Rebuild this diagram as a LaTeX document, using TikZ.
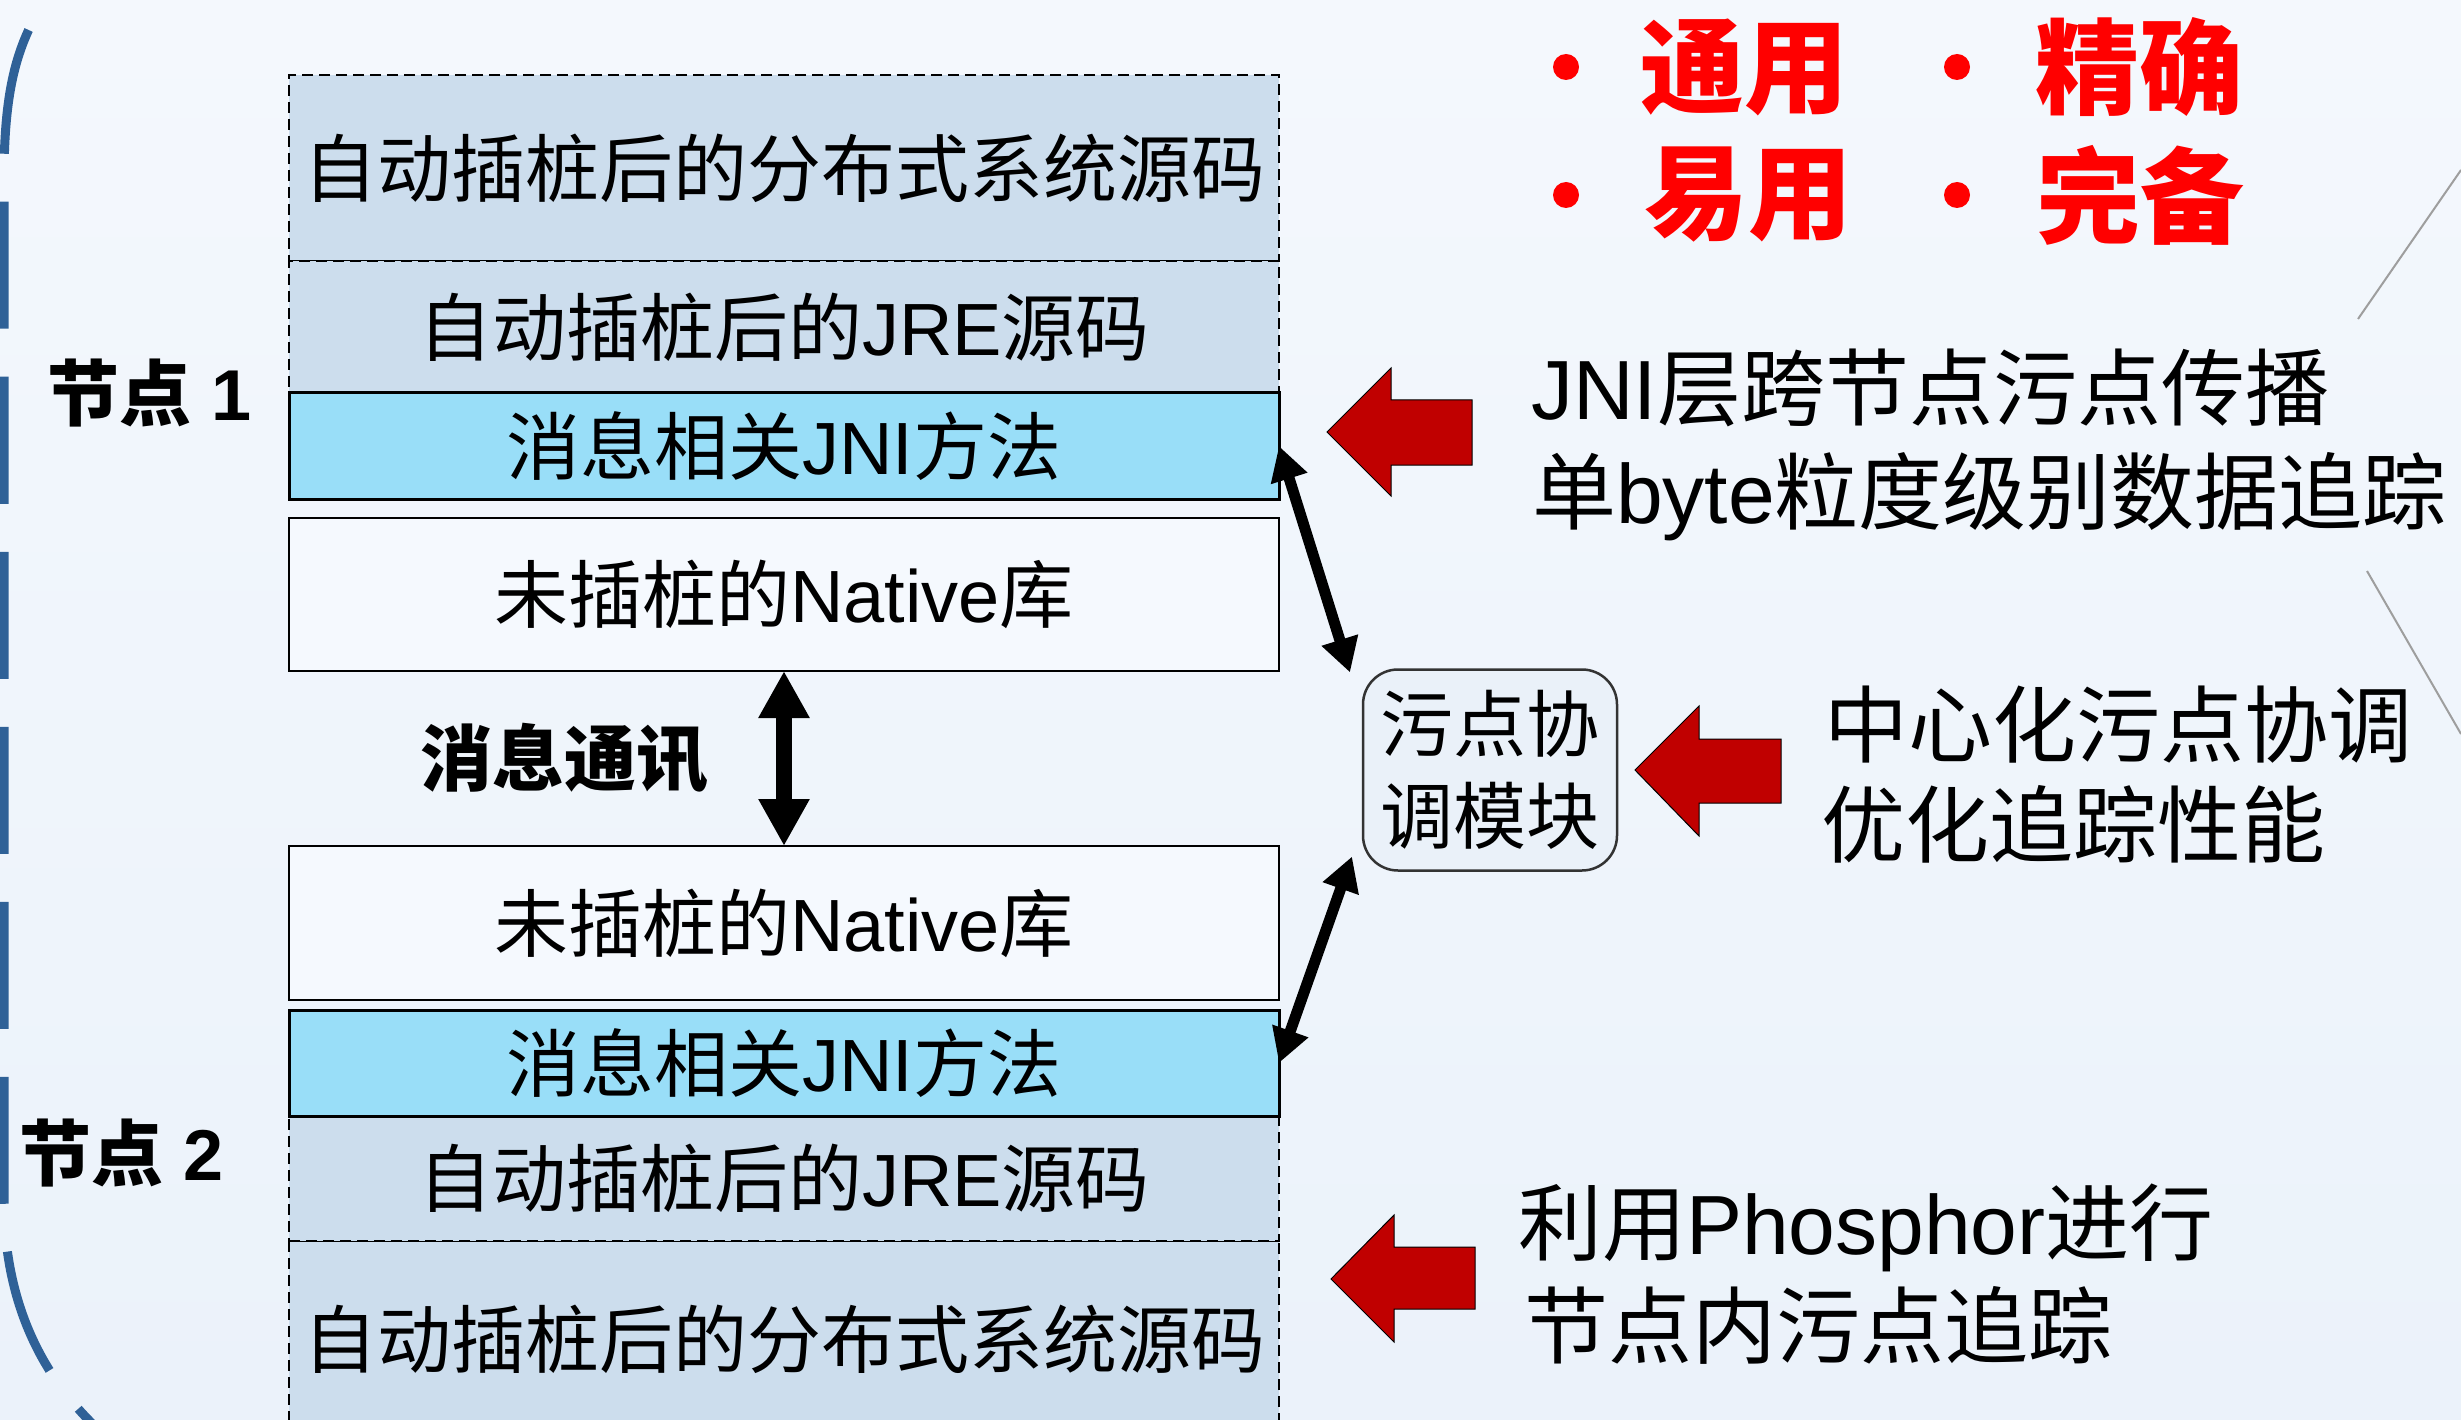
\documentclass[tikz,border=0pt]{standalone}
\usepackage{fontspec}
\setmainfont{Liberation Sans}
\newfontfamily\cjk{Noto Sans CJK SC}
\newfontfamily\lat{Liberation Sans}
\newcommand\latn[1]{{\lat #1}}
\usetikzlibrary{arrows.meta,calc}
\definecolor{bgtop}{HTML}{F4F8FD}
\definecolor{bgbot}{HTML}{EBF2FA}
\definecolor{srcfill}{HTML}{CCDDED}
\definecolor{jnifill}{HTML}{99DEF8}
\definecolor{natfill}{HTML}{F5F9FE}
\definecolor{coordfill}{HTML}{EAF1F9}
\definecolor{blockred}{HTML}{C00000}
\definecolor{textred}{HTML}{FF0000}
\definecolor{arcblue}{HTML}{2F6197}
\begin{document}
\begin{tikzpicture}[x=1pt,y=-1pt,
  every node/.style={inner sep=0pt,outer sep=0pt},
  layer/.style={minimum width=990pt,font=\fontsize{74}{80}\selectfont\cjk},
  srcbox/.style={layer,fill=srcfill,draw=black,line width=2pt,dash pattern=on 11pt off 6pt},
  jnibox/.style={layer,fill=jnifill,draw=black,line width=3pt},
  natbox/.style={layer,fill=natfill,draw=black,line width=2.5pt},
  coordbox/.style={draw=black!80,line width=2.5pt,rounded corners=35pt,fill=coordfill,
     minimum width=254pt,minimum height=201pt,align=center,font=\fontsize{73}{92}\selectfont\cjk},
  sidelabel/.style={font=\fontsize{72}{80}\selectfont\cjk\bfseries},
  note/.style={anchor=base west,font=\fontsize{84}{90}\selectfont\cjk},
  goal/.style={text=textred,font=\fontsize{104}{110}\selectfont\cjk\bfseries},
  dblv/.style={line width=16pt,{Triangle[width=48pt,length=47pt]}-{Triangle[width=48pt,length=47pt]}},
  dbld/.style={line width=11pt,{Triangle[width=36pt,length=34pt]}-{Triangle[width=36pt,length=34pt]}},
  blockarrow/.style={fill=blockred,draw=black,line width=1pt},
  arcline/.style={draw=arcblue,line width=9pt,dash pattern=on 127pt off 48pt,dash phase=165pt},
  guide/.style={draw=black!38,line width=2pt}
]
\path[use as bounding box] (0,0) rectangle (2461,1420);
\clip (0,0) rectangle (2461,1420);
\shade[top color=bgtop,bottom color=bgbot] (0,0) rectangle (2461,1420);

% decorative outlines
\draw[arcline] (33,21) .. controls (14,58) and (4,100) .. (4,180) -- (4,1200)
   .. controls (4,1300) and (40,1380) .. (110,1440);
\draw[guide] (2461,170) -- (2358,319);
\draw[guide] (2367,571) -- (2461,734);

% node 1 stack
\node[srcbox,minimum height=186pt] (dist1) at (784,168) {自动插桩后的分布式系统源码};
\node[srcbox,minimum height=132pt] (jre1) at (784,327) {自动插桩后的\latn{JRE}源码};
\node[jnibox,minimum height=106pt] (jni1) at (784,446) {消息相关\latn{JNI}方法};
\node[natbox,minimum height=153pt] (nat1) at (784,594.5) {未插桩的\latn{Native}库};

% node 2 stack
\node[natbox,minimum height=154pt] (nat2) at (784,923) {未插桩的\latn{Native}库};
\node[srcbox,minimum height=196pt] (dist2) at (784,1339) {自动插桩后的分布式系统源码};
\node[srcbox,minimum height=125pt] (jre2) at (784,1178.5) {自动插桩后的\latn{JRE}源码};
\node[jnibox,minimum height=106pt] (jni2) at (784,1063) {消息相关\latn{JNI}方法};

% labels
\node[sidelabel] (lab1) at (150,393) {节点\latn{~1}};
\node[sidelabel] (lab2) at (122,1153) {节点\latn{~2}};
\node[sidelabel] (msg) at (564,758) {消息通讯};

% coordination module
\node[coordbox] (coord) at (1490,770) {污点协\\调模块};

% connectors
\draw[dblv] (nat1.south) -- (nat2.north);
\draw[dbld] (jni1.east) -- ([shift={(-13pt,-3pt)}]coord.north west);
\draw[dbld] ([shift={(-11pt,14pt)}]coord.south west) -- (jni2.east);

% block arrows
\path[blockarrow] (1327,432) -- (1391,368) -- (1391,400) -- (1472,400) -- (1472,465)
   -- (1391,465) -- (1391,496) -- cycle;
\path[blockarrow] (1635,770) -- (1699,706) -- (1699,739) -- (1781,739) -- (1781,803)
   -- (1699,803) -- (1699,836) -- cycle;
\path[blockarrow] (1331,1279) -- (1394,1215) -- (1394,1247) -- (1475,1247) -- (1475,1309)
   -- (1394,1309) -- (1394,1342) -- cycle;

% notes
\node[note] (t1a) at (1531,420) {\latn{JNI}层跨节点污点传播};
\node[note] (t1b) at (1532,523) {单\latn{byte}粒度级别数据追踪};
\node[note] (t2a) at (1824,756) {中心化污点协调};
\node[note] (t2b) at (1821,856) {优化追踪性能};
\node[note] (t3a) at (1518,1254) {利用\latn{Phosphor}进行};
\node[note] (t3b) at (1524,1357) {节点内污点追踪};

% goals
\fill[textred] (1566,67) circle (13pt) (1957,67) circle (13pt)
   (1566,195) circle (13pt) (1957,195) circle (13pt);
\node[goal] (g1) at (1744,67) {通用};
\node[goal] (g2) at (2139,67) {精确};
\node[goal] (g3) at (1748,195) {易用};
\node[goal] (g4) at (2140,195) {完备};
\end{tikzpicture}
\end{document}
